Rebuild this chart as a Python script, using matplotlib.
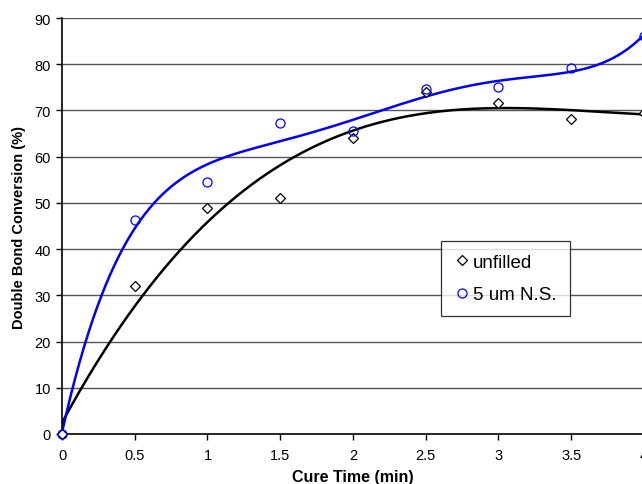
import numpy as np
import matplotlib.pyplot as plt

plt.rcParams['font.family'] = ['Liberation Sans', 'DejaVu Sans']

# ===== DATA =====
cure_time = [0, 0.5, 1, 1.5, 2, 2.5, 3, 3.5, 4]
unfilled = [0, 32.0, 48.8, 51.0, 64.0, 73.9, 71.7, 68.1, 69.4]
ns_5um = [0, 46.3, 54.6, 67.3, 65.5, 74.6, 75.0, 79.2, 86.2]
yticks = np.arange(0, 91, 10)
xticks = [0, 0.5, 1, 1.5, 2, 2.5, 3, 3.5, 4]

# polynomial trendlines fitted to the points
x = np.array(cure_time)
xs = np.linspace(0, 4, 400)
fit_unfilled = np.polyval(np.polyfit(x, unfilled, 3), xs)
fit_ns = np.polyval(np.polyfit(x, ns_5um, 5), xs)

fig = plt.figure(figsize=(6.42, 4.85), dpi=100)
ax = fig.add_axes([0.0966, 0.1031, 0.9064, 0.8577])

for yv in yticks[1:]:
    ax.axhline(yv, color='#555555', lw=1.0, zorder=0)

ax.plot(xs, fit_unfilled, color='black', lw=1.8, zorder=2)
ax.plot(xs, fit_ns, color='#0000ee', lw=1.8, zorder=2)

ax.plot(x, unfilled, 'D', ms=4.8, mfc='white', mec='black', mew=0.9,
        ls='none', label='unfilled', zorder=3, clip_on=False)
ax.plot(x, ns_5um, 'o', ms=6.5, mfc='none', mec='#0000ff', mew=0.9,
        ls='none', label='5 um N.S.', zorder=3, clip_on=False)

ax.set_xlim(0, 4)
ax.set_ylim(0, 90)
ax.set_xticks(xticks)
ax.set_xticklabels(['0', '0.5', '1', '1.5', '2', '2.5', '3', '3.5', '4'])
ax.set_yticks(yticks)
ax.tick_params(direction='out', length=4, width=1, labelsize=10.5, pad=4)
ax.tick_params(axis='x', pad=6)

for s in ['top', 'right']:
    ax.spines[s].set_visible(False)
ax.spines['left'].set_linewidth(1.2)
ax.spines['bottom'].set_linewidth(1.2)

ax.set_xlabel('Cure Time (min)', fontsize=11.5, fontweight='bold', labelpad=5)
ax.set_ylabel('Double Bond Conversion (%)', fontsize=10.5, fontweight='bold', labelpad=6)

leg = ax.legend(loc='upper left', bbox_to_anchor=(0.651, 0.4647), fontsize=13.5,
                frameon=True, fancybox=False, edgecolor='black',
                handlelength=0.85, handletextpad=0.16, labelspacing=0.8,
                borderpad=0.7, borderaxespad=0)
leg.get_frame().set_linewidth(0.9)

fig.savefig('out.png', dpi=100)
